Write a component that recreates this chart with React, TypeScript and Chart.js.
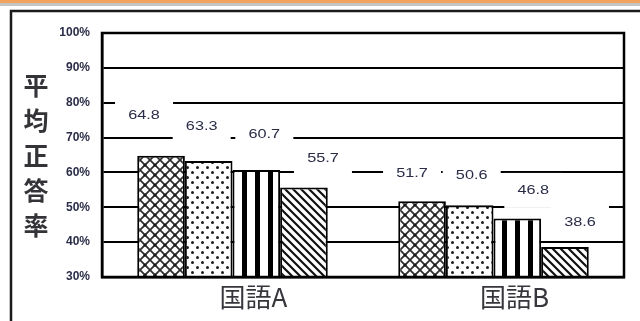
import { useEffect, useRef } from 'react';
import { Chart, registerables } from 'chart.js';

Chart.register(...registerables);

// Subjects on the x axis
const categories = ['国語A', '国語B'];
// Average correct-answer rate (%) for each of the four series
const seriesNames = ['系列1', '系列2', '系列3', '系列4'];
const series1 = [64.8, 51.7];
const series2 = [63.3, 50.6];
const series3 = [60.7, 46.8];
const series4 = [55.7, 38.6];
// Value axis range and ticks
const yMin = 30;
const yMax = 100;
const yStep = 10;
const axisTitle = '平均正答率';

// Nudges for the boxed value labels, relative to each bar's top centre: [dx, rise]
const labelNudge = [
  [[-17, 40], [-10, 28]],
  [[-7, 35], [2, 30]],
  [[8, 36], [16, 28]],
  [[19, 29], [15, 25]],
];

const W = 640;
const H = 321;
const TEXT_DARK = '#2b2d48';

type Kind = 'mesh' | 'dots' | 'vstripe' | 'diag';

function makePattern(kind: Kind): CanvasPattern {
  const c = document.createElement('canvas');
  const g = c.getContext('2d') as CanvasRenderingContext2D;
  if (kind === 'mesh') {
    c.width = 10; c.height = 10;
    g.fillStyle = '#ffffff';
    g.fillRect(0, 0, 10, 10);
    g.strokeStyle = '#2e2e2e';
    g.lineWidth = 1.8;
    g.beginPath();
    g.moveTo(0, 0); g.lineTo(10, 10);
    g.moveTo(10, 0); g.lineTo(0, 10);
    g.stroke();
    g.fillStyle = '#1a1a1a';
    g.beginPath();
    g.arc(5, 5, 1.6, 0, Math.PI * 2);
    g.fill();
  } else if (kind === 'dots') {
    c.width = 10; c.height = 10;
    g.fillStyle = '#ffffff';
    g.fillRect(0, 0, 10, 10);
    g.fillStyle = '#1e1e1e';
    g.beginPath();
    g.arc(2.5, 2.5, 1.5, 0, Math.PI * 2);
    g.arc(7.5, 7.5, 1.5, 0, Math.PI * 2);
    g.fill();
  } else if (kind === 'vstripe') {
    c.width = 13; c.height = 4;
    g.fillStyle = '#ffffff';
    g.fillRect(0, 0, 13, 4);
    g.fillStyle = '#000000';
    g.fillRect(8, 0, 5, 4);
  } else {
    c.width = 8; c.height = 8;
    g.fillStyle = '#ffffff';
    g.fillRect(0, 0, 8, 8);
    g.strokeStyle = '#111111';
    g.lineWidth = 2.2;
    g.beginPath();
    g.moveTo(-2, -2); g.lineTo(10, 10);
    g.moveTo(-10, -2); g.lineTo(2, 10);
    g.moveTo(6, -2); g.lineTo(18, 10);
    g.stroke();
  }
  return g.createPattern(c, 'repeat') as CanvasPattern;
}

// Page decoration, frame and stacked vertical axis title
const decorPlugin = {
  id: 'decor',
  beforeDraw(chart: Chart) {
    const ctx = chart.ctx;
    ctx.save();
    ctx.fillStyle = '#ffffff';
    ctx.fillRect(0, 0, W, H);
    ctx.fillStyle = '#f2a45c';
    ctx.fillRect(0, 0, W, 3);
    ctx.fillStyle = '#c4c4c4';
    ctx.fillRect(0, 3, W, 3);
    ctx.strokeStyle = '#1a1a1a';
    ctx.lineWidth = 2.5;
    ctx.beginPath();
    ctx.moveTo(11, H + 2);
    ctx.lineTo(11, 11);
    ctx.lineTo(W + 2, 11);
    ctx.stroke();

    const area = chart.chartArea;
    const mid = (area.top + area.bottom) / 2;
    ctx.fillStyle = '#333338';
    ctx.font = 'bold 25px "Noto Sans CJK JP"';
    ctx.textAlign = 'center';
    ctx.textBaseline = 'middle';
    const chars = Array.from(axisTitle);
    chars.forEach((ch, i) => {
      ctx.fillText(ch, 36, mid + (i - (chars.length - 1) / 2) * 35);
    });
    ctx.restore();
  },
};

// Plot frame plus white-boxed value labels
const labelPlugin = {
  id: 'valueBoxes',
  afterDatasetsDraw(chart: Chart) {
    const ctx = chart.ctx;
    const area = chart.chartArea;
    ctx.save();
    ctx.strokeStyle = '#000000';
    ctx.lineWidth = 2.5;
    ctx.strokeRect(area.left, area.top, area.right - area.left, area.bottom - area.top);

    chart.data.datasets.forEach((ds, i) => {
      const meta = chart.getDatasetMeta(i);
      meta.data.forEach((bar: any, j: number) => {
        const v = ds.data[j] as number;
        const [dx, rise] = labelNudge[i][j];
        const cx = bar.x + dx;
        const cy = bar.y - rise;
        ctx.fillStyle = '#ffffff';
        ctx.fillRect(cx - 29, cy - 17.5, 58, 35);
        ctx.save();
        ctx.translate(cx, cy);
        ctx.scale(1.25, 1);
        ctx.font = '13px "Liberation Sans"';
        ctx.fillStyle = TEXT_DARK;
        ctx.textAlign = 'center';
        ctx.textBaseline = 'middle';
        ctx.fillText(v.toFixed(1), 0, 0);
        ctx.restore();
      });
    });
    ctx.restore();
  },
};

export default function App() {
  const ref = useRef<HTMLCanvasElement>(null);

  useEffect(() => {
    const canvas = ref.current;
    if (!canvas) return;
    const fills = [
      makePattern('mesh'),
      makePattern('dots'),
      makePattern('vstripe'),
      makePattern('diag'),
    ];
    const values = [series1, series2, series3, series4];

    const chart = new Chart(canvas, {
      type: 'bar',
      data: {
        labels: categories,
        datasets: values.map((data, i) => ({
          label: seriesNames[i],
          data,
          backgroundColor: fills[i],
          borderColor: '#000000',
          borderWidth: 2,
          borderSkipped: false,
          categoryPercentage: 0.73,
          barPercentage: 1.0,
        })),
      },
      options: {
        animation: false,
        responsive: false,
        devicePixelRatio: 1,
        layout: { padding: { top: 33, right: 16, bottom: 0, left: 0 } },
        plugins: {
          legend: { display: false },
          tooltip: { enabled: false },
          title: { display: false },
        },
        scales: {
          x: {
            afterFit: (s: any) => { s.height = 44; },
            grid: { display: false, drawTicks: false },
            border: { display: true, color: '#000000', width: 2.5 },
            ticks: {
              color: '#36363c',
              font: { family: '"Noto Sans CJK JP"', size: 26 },
              padding: 5,
              labelOffset: 21,
            },
          },
          y: {
            min: yMin,
            max: yMax,
            afterFit: (s: any) => { s.width = 102; },
            grid: { color: '#000000', lineWidth: 2, drawTicks: false },
            border: { display: true, color: '#000000', width: 2.5 },
            ticks: {
              stepSize: yStep,
              color: TEXT_DARK,
              font: { family: '"Liberation Sans"', size: 12, weight: 'bold' },
              padding: 12,
              callback: (v: any) => `${v}%`,
            },
          },
        },
      },
      plugins: [decorPlugin, labelPlugin],
    });
    return () => chart.destroy();
  }, []);

  return (
    <canvas
      ref={ref}
      width={W}
      height={H}
      style={{ position: 'fixed', left: 0, top: 0, display: 'block' }}
    />
  );
}
